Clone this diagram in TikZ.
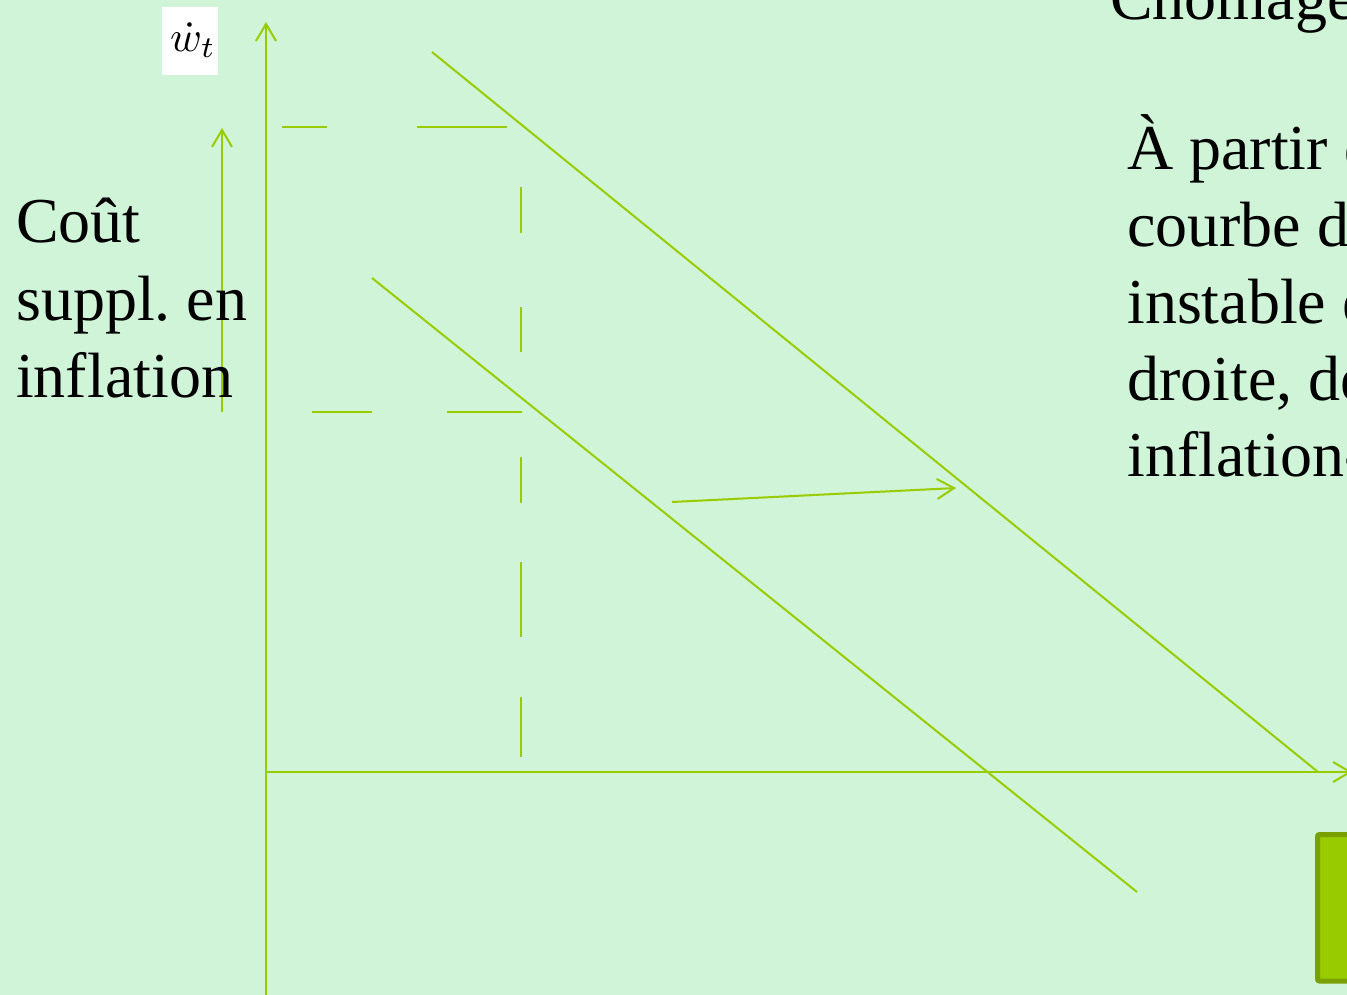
\documentclass[tikz,border=0pt]{standalone}
\usepackage{fontspec}
\usepackage{graphicx}
\setmainfont{Liberation Serif}
\usetikzlibrary{arrows.meta}
\definecolor{bgc}{HTML}{D0F4D8}
\definecolor{lgreen}{HTML}{99CC00}
\definecolor{dgreen}{HTML}{77A000}
\tikzset{
  ln/.style={draw=lgreen, line width=2pt},
  arr/.style={ln, -{Straight Barb[length=17pt,width=20pt,line width=2pt]}},
  big/.style={font=\fontsize{64}{77}\selectfont, anchor=base west, inner sep=0pt, text=black},
}
\frenchspacing
\begin{document}
\begin{tikzpicture}[x=1pt,y=-1pt]
\useasboundingbox (0,0) rectangle (1347,995);
\clip (0,0) rectangle (1347,995);
\fill[bgc] (0,0) rectangle (1347,995);
% green box
\draw[fill=lgreen, draw=dgreen, line width=5pt, rounded corners=2pt] (1317.5,834.5) rectangle (1360,981);
% axes
\coordinate (O) at (266,772);
\coordinate (ytop) at (266,22);
\coordinate (ybot) at (266,1000);
\coordinate (xend) at (1352,772);
\draw[arr] (ybot) -- (ytop);
\draw[arr] (O) -- (xend);
% Phillips curves
\coordinate (a1) at (432,52);
\coordinate (a2) at (1318,772);
\coordinate (b1) at (372,278);
\coordinate (b2) at (1137,892);
\draw[ln] (a1) -- (a2);
\draw[ln] (b1) -- (b2);
% shift arrow
\coordinate (s1) at (672,502);
\coordinate (s2) at (956,488);
\draw[arr] (s1) -- (s2);
% small vertical arrow
\coordinate (c1) at (222,412);
\coordinate (c2) at (222,128);
\draw[arr] (c1) -- (c2);
% dashed guides
\draw[ln] (282,127) -- (327,127);
\draw[ln] (417,127) -- (507,127);
\draw[ln] (312,412) -- (372,412);
\draw[ln] (447,412) -- (522,412);
\draw[ln] (521,187) -- (521,233);
\draw[ln] (521,307) -- (521,352);
\draw[ln] (521,457) -- (521,503);
\draw[ln] (521,562) -- (521,637);
\draw[ln] (521,697) -- (521,757);
% label w dot
\node[fill=white, minimum width=56pt, minimum height=68pt, inner sep=0pt] (wl) at (190,41) {};
\node[inner sep=0pt] (wt) at (193,40) {\scalebox{4.3}{$\dot{w}_t$}};
% left text
\node[big] (l1) at (16,243) {Coût};
\node[big] (l2) at (16,320) {suppl. en};
\node[big] (l3) at (16,397) {inflation};
% right text
\node[big] (r0) at (1110,20) {Chômage};
\node[big] (r1) at (1127,170) {À partir de};
\node[big] (r2) at (1127,247) {courbe de};
\node[big] (r3) at (1127,323) {instable et};
\node[big] (r4) at (1127,400) {droite, de};
\node[big] (r5) at (1127,476) {inflation-};
\end{tikzpicture}
\end{document}
